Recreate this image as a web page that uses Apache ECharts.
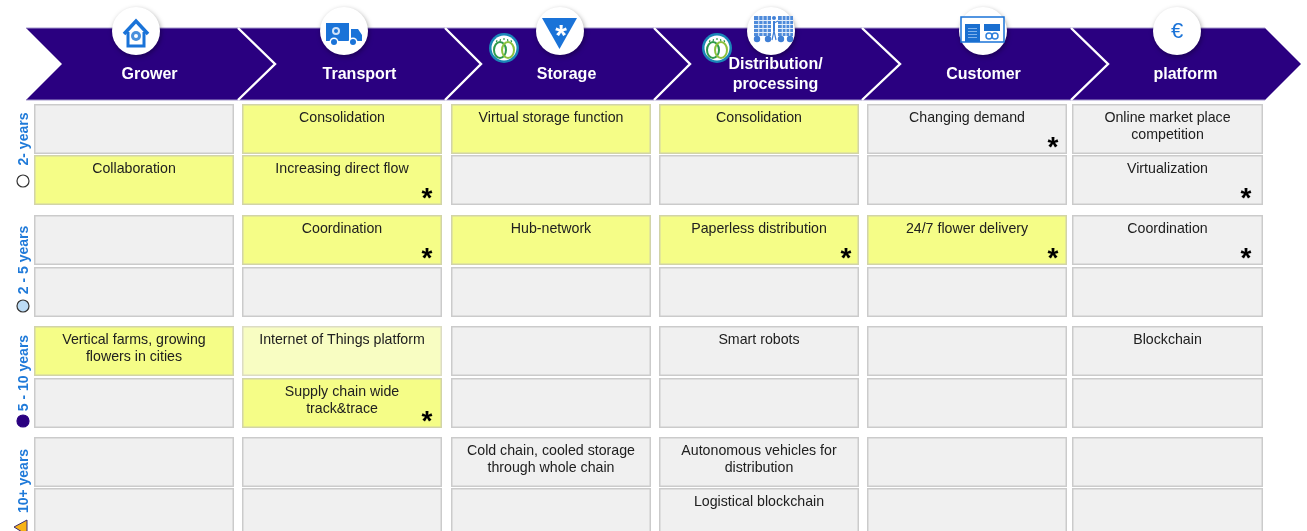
<!DOCTYPE html>
<html>
<head>
<meta charset="utf-8">
<script src="https://cdn.jsdelivr.net/npm/echarts@6/dist/echarts.min.js"></script>
<style>html,body{margin:0;padding:0;background:#fff}#c{width:1307px;height:531px;filter:blur(0.4px)}</style>
</head>
<body>
<div id="c"></div>
<script>
// ---------- chart content ----------
const stages = ['Grower', 'Transport', 'Storage', 'Distribution/\nprocessing', 'Customer', 'platform'];
const horizons = ['2- years', '2 - 5 years', '5 - 10 years', '10+ years'];

const row1Texts = ['', 'Consolidation', 'Virtual storage function', 'Consolidation', 'Changing demand', 'Online market place\ncompetition'];
const row2Texts = ['Collaboration', 'Increasing direct flow', '', '', '', 'Virtualization'];
const row3Texts = ['', 'Coordination', 'Hub-network', 'Paperless distribution', '24/7 flower delivery', 'Coordination'];
const row4Texts = ['', '', '', '', '', ''];
const row5Texts = ['Vertical farms, growing\nflowers in cities', 'Internet of Things platform', '', 'Smart robots', '', 'Blockchain'];
const row6Texts = ['', 'Supply chain wide\ntrack&trace', '', '', '', ''];
const row7Texts = ['', '', 'Cold chain, cooled storage\nthrough whole chain', 'Autonomous vehicles for\ndistribution', '', ''];
const row8Texts = ['', '', '', 'Logistical blockchain', '', ''];

// 0 = not highlighted, 1 = highlighted, 2 = faintly highlighted
const row1Marks = [0, 1, 1, 1, 0, 0];
const row2Marks = [1, 1, 0, 0, 0, 0];
const row3Marks = [0, 1, 1, 1, 1, 0];
const row4Marks = [0, 0, 0, 0, 0, 0];
const row5Marks = [1, 2, 0, 0, 0, 0];
const row6Marks = [0, 1, 0, 0, 0, 0];
const row7Marks = [0, 0, 0, 0, 0, 0];
const row8Marks = [0, 0, 0, 0, 0, 0];

// columns carrying an asterisk, per row
const row1Stars = [4];
const row2Stars = [1, 5];
const row3Stars = [1, 3, 4, 5];
const row4Stars = [];
const row5Stars = [];
const row6Stars = [1];
const row7Stars = [];
const row8Stars = [];

// ---------- layout (page scale of the hidden axes) ----------
const colLeft = [34, 242, 451, 659, 867, 1072];
const colRight = [234, 442, 651, 859, 1067, 1263];
const starInset = [15, 15, 15, 13, 14, 17];
const rowTop = [104, 155, 215, 267, 326, 378, 437, 488];
const rowHeight = 50;
const chevTop = 28, chevMid = 64, chevBottom = 100;
const chevLeft = [26, 238, 445, 654, 862, 1071];
const chevShoulder = [238, 445, 654, 862, 1071, 1265];
const chevTip = [275, 481, 690, 900, 1108, 1301];
const chevNotch = [62, 275, 481, 690, 900, 1108];
const stageLabelX = [150, 360, 567, 776, 984, 1186];
const badgeX = [136, 344, 560, 771, 983, 1177];
const badgeY = 31;
const logoX = [504, 717];
const horizonLabelY = [139, 260, 373, 481];
const horizonMarkerY = [181, 306, 421, 527];

const NAVY = '#2a0080', BLUE = '#1a73d8', FONT = '"Liberation Sans", Arial, sans-serif';
const cellFill = ['#f0f0f0', '#f5fd87', '#f8fdc2'];
const cellEdge = ['#cbcbcb', '#d2d4a8', '#dcdcc4'];

const allTexts = [row1Texts, row2Texts, row3Texts, row4Texts, row5Texts, row6Texts, row7Texts, row8Texts];
const allMarks = [row1Marks, row2Marks, row3Marks, row4Marks, row5Marks, row6Marks, row7Marks, row8Marks];
const allStars = [row1Stars, row2Stars, row3Stars, row4Stars, row5Stars, row6Stars, row7Stars, row8Stars];

const cellData = [];
allTexts.forEach((row, r) => row.forEach((t, c) => cellData.push([c, r])));

function P(api, x, y) { return api.coord([x, y]); }
function poly(api, pts, style) {
  return { type: 'polygon', shape: { points: pts.map(p => P(api, p[0], p[1])) }, style };
}
function line(api, pts, style) {
  return { type: 'polyline', shape: { points: pts.map(p => P(api, p[0], p[1])) }, style: Object.assign({ fill: null }, style) };
}
function rect(api, x, y, w, h, style) {
  const a = P(api, x, y);
  return { type: 'rect', shape: { x: a[0], y: a[1], width: w, height: h }, style };
}
function circ(api, x, y, r, style) {
  const a = P(api, x, y);
  return { type: 'circle', shape: { cx: a[0], cy: a[1], r }, style };
}
function txt(api, x, y, text, font, fill, rotation) {
  const a = P(api, x, y);
  return { type: 'text', x: a[0], y: a[1], rotation: rotation || 0,
    style: { text, font, fill, align: 'center', verticalAlign: 'middle', lineHeight: 20 } };
}

function renderCell(params, api) {
  const c = api.value(0), r = api.value(1);
  const x = colLeft[c], y = rowTop[r], w = colRight[c] - x;
  const m = allMarks[r][c];
  const kids = [rect(api, x + 0.75, y + 0.75, w - 1.5, rowHeight - 1.5, {
    fill: cellFill[m], stroke: cellEdge[m], lineWidth: 1.5 })];
  const lines = allTexts[r][c] ? allTexts[r][c].split('\n') : [];
  lines.forEach((t, i) => kids.push(txt(api, x + w / 2, y + 14 + i * 17, t, '14.2px ' + FONT, '#202020')));
  if (allStars[r].indexOf(c) >= 0) {
    kids.push(txt(api, colRight[c] - starInset[c], y + 44, '*', 'bold 28px ' + FONT, '#000'));
  }
  return { type: 'group', children: kids };
}

function renderChevron(params, api) {
  const i = api.value(0);
  const L = chevLeft[i], S = chevShoulder[i], T = chevTip[i], N = chevNotch[i];
  return { type: 'group', children: [
    poly(api, [[L, chevTop], [S, chevTop], [T, chevMid], [S, chevBottom], [L, chevBottom], [N, chevMid]], { fill: NAVY }),
    line(api, [[L, chevTop], [S, chevTop]], { stroke: '#a398cc', lineWidth: 1 }),
    line(api, [[L, chevBottom], [S, chevBottom]], { stroke: '#a398cc', lineWidth: 1 })
  ] };
}
function renderSeparator(params, api) {
  const i = api.value(0);
  const S = chevShoulder[i], T = chevTip[i];
  return line(api, [[S, chevTop], [T, chevMid], [S, chevBottom]], { stroke: '#fff', lineWidth: 2.4 });
}

function iconHouse(api, x, y) {
  return [
    line(api, [[x - 12, y + 3], [x, y - 10], [x + 12, y + 3]], { stroke: BLUE, lineWidth: 3.5 }),
    line(api, [[x - 8, y + 1], [x - 8, y + 15], [x + 8, y + 15], [x + 8, y + 1]], { stroke: BLUE, lineWidth: 3 }),
    circ(api, x, y + 5, 5, { fill: '#4a90dc' }),
    circ(api, x, y + 5, 2, { fill: '#fff' })
  ];
}
function iconTruck(api, x, y) {
  return [
    rect(api, x - 18, y - 8, 23, 18, { fill: BLUE }),
    poly(api, [[x + 7, y - 2], [x + 14, y - 2], [x + 18, y + 4], [x + 18, y + 10], [x + 7, y + 10]], { fill: BLUE }),
    circ(api, x - 8, y, 4, { fill: '#cfe2f8' }),
    circ(api, x - 8, y, 2, { fill: BLUE }),
    circ(api, x - 10, y + 11, 4.5, { fill: '#fff' }),
    circ(api, x - 10, y + 11, 3, { fill: BLUE }),
    circ(api, x + 9, y + 11, 4.5, { fill: '#fff' }),
    circ(api, x + 9, y + 11, 3, { fill: BLUE })
  ];
}
function iconStorage(api, x, y) {
  return [
    poly(api, [[x - 18, y - 13], [x + 17, y - 13], [x - 0.5, y + 18]], { fill: BLUE }),
    txt(api, x + 1, y + 6, '*', 'bold 30px ' + FONT, '#fff')
  ];
}
function rackGrid(api, x, y, w, h) {
  const kids = [rect(api, x, y, w, h, { fill: '#4f8bda' })];
  for (let i = 1; i < 4; i++) kids.push(rect(api, x + i * w / 4, y, 1, h, { fill: '#e4eefb' }));
  for (let j = 1; j < 5; j++) kids.push(rect(api, x, y + j * h / 5, w, 1, { fill: '#e4eefb' }));
  kids.push(circ(api, x + 3, y + h + 3, 3.2, { fill: '#3f7fd6' }));
  kids.push(circ(api, x + w - 3, y + h + 3, 3.2, { fill: '#3f7fd6' }));
  return kids;
}
function iconDistribution(api, x, y) {
  return [].concat(
    rackGrid(api, x - 17, y - 15, 17, 20),
    rackGrid(api, x + 7, y - 15, 15, 20),
    [
      circ(api, x + 3, y - 13, 2, { fill: '#3f7fd6' }),
      line(api, [[x + 3, y - 10], [x + 3, y]], { stroke: '#3f7fd6', lineWidth: 2 }),
      line(api, [[x + 3, y], [x + 1, y + 9]], { stroke: '#3f7fd6', lineWidth: 1.2 }),
      line(api, [[x + 3, y], [x + 5, y + 9]], { stroke: '#3f7fd6', lineWidth: 1.2 }),
      line(api, [[x + 3, y - 8], [x + 7, y - 10]], { stroke: '#3f7fd6', lineWidth: 1.2 })
    ]);
}
function iconCustomer(api, x, y) {
  const kids = [
    rect(api, x - 22, y - 14, 43, 25, { fill: 'none', stroke: BLUE, lineWidth: 1.5 }),
    rect(api, x - 18, y - 7, 15, 18, { fill: '#1a6fd0' }),
    rect(api, x + 1, y - 7, 16, 7, { fill: '#1a6fd0' }),
    circ(api, x + 6, y + 5, 3, { fill: 'none', stroke: '#2f80dc', lineWidth: 1.5 }),
    circ(api, x + 12, y + 5, 3, { fill: 'none', stroke: '#2f80dc', lineWidth: 1.5 })
  ];
  for (let j = 0; j < 4; j++) kids.push(rect(api, x - 15, y - 3 + j * 3, 9, 1, { fill: '#7fb2ec' }));
  return kids;
}
function iconEuro(api, x, y) {
  return [txt(api, x, y + 1, '€', '22px ' + FONT, BLUE)];
}
const icons = [iconHouse, iconTruck, iconStorage, iconDistribution, iconCustomer, iconEuro];

function renderBadge(params, api) {
  const i = api.value(0), x = badgeX[i];
  return { type: 'group', children: [
    circ(api, x, badgeY, 24, { fill: '#fff', shadowBlur: 5, shadowColor: 'rgba(0,0,0,.35)', shadowOffsetX: 1, shadowOffsetY: 2 })
  ].concat(icons[i](api, x, badgeY)) };
}

function renderLogo(params, api) {
  const x = logoX[api.value(0)], y = 48;
  const kids = [
    circ(api, x, y, 15, { fill: '#1a86b8' }),
    circ(api, x, y, 12.5, { fill: '#fff' }),
    { type: 'ellipse', shape: { cx: P(api, x - 4, 0)[0], cy: P(api, 0, y + 2)[1], rx: 6, ry: 8 }, style: { fill: 'none', stroke: '#2f9a4c', lineWidth: 2 } },
    { type: 'ellipse', shape: { cx: P(api, x + 4, 0)[0], cy: P(api, 0, y + 2)[1], rx: 6, ry: 8 }, style: { fill: 'none', stroke: '#8cc23e', lineWidth: 2 } }
  ];
  [-7, -3.5, 0, 3.5, 7].forEach(d => kids.push(
    line(api, [[x + d, y - 10 + Math.abs(d) * 0.3], [x + d * 1.1, y - 8 + Math.abs(d) * 0.3]], { stroke: '#2f9a4c', lineWidth: 1.2 })));
  return { type: 'group', children: kids };
}

function renderStageLabel(params, api) {
  const i = api.value(0);
  const lines = stages[i].split('\n');
  const start = lines.length > 1 ? 65 : 75;
  return { type: 'group', children: lines.map((t, k) =>
    txt(api, stageLabelX[i] - 0.5, start + k * 20, t, 'bold 16px ' + FONT, '#fff')) };
}

function renderHorizon(params, api) {
  const i = api.value(0), x = 23, my = horizonMarkerY[i];
  let marker;
  if (i === 3) {
    marker = poly(api, [[27, my - 7], [14, my], [27, my + 8]], { fill: '#f7b318', stroke: '#3a2a70', lineWidth: 1 });
  } else {
    marker = circ(api, x, my, 6, { fill: ['#fff', '#bcdcf6', NAVY][i], stroke: i === 2 ? NAVY : '#333', lineWidth: 1.2 });
  }
  return { type: 'group', children: [
    txt(api, x + 1, horizonLabelY[i], horizons[i], 'bold 14px ' + FONT, '#1f7ad9', Math.PI / 2),
    marker
  ] };
}

const custom = (data, renderItem, z) => ({
  type: 'custom', coordinateSystem: 'cartesian2d', data, renderItem, z,
  clip: false, silent: true, animation: false
});

const chart = echarts.init(document.getElementById('c'), null, { renderer: 'canvas' });
const stageIdx = stages.map((s, i) => [i]);
chart.setOption({
  animation: false,
  backgroundColor: '#fff',
  grid: { left: 0, right: 0, top: 0, bottom: 0 },
  xAxis: { type: 'value', min: 0, max: 1307, show: false },
  yAxis: { type: 'value', min: 0, max: 531, inverse: true, show: false },
  series: [
    custom(cellData, renderCell, 1),
    custom(stageIdx, renderChevron, 2),
    custom(stageIdx.slice(0, -1), renderSeparator, 3),
    custom(stageIdx, renderBadge, 4),
    custom(logoX.map((s, i) => [i]), renderLogo, 5),
    custom(stageIdx, renderStageLabel, 6),
    custom(horizons.map((s, i) => [i]), renderHorizon, 7)
  ]
});
</script>
</body>
</html>
